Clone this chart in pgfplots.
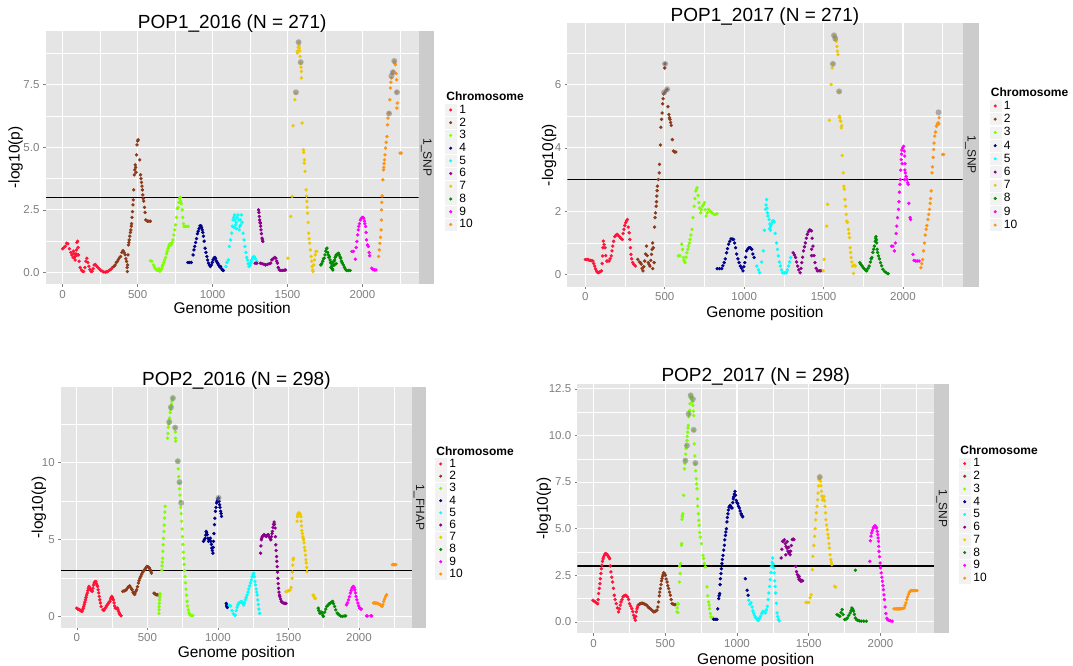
\documentclass[border=0pt]{standalone}
\usepackage{fontspec}
\setmainfont{Liberation Sans}
\usepackage{pgfplots}
\pgfplotsset{compat=1.18}

\definecolor{panel}{HTML}{E5E5E5}
\definecolor{stripc}{HTML}{CCCCCC}
\definecolor{keybg}{HTML}{F2F2F2}
\definecolor{tickc}{HTML}{7F7F7F}
\definecolor{c1}{HTML}{FF1438}
\definecolor{c2}{HTML}{8B3A1A}
\definecolor{c3}{HTML}{7FFF00}
\definecolor{c4}{HTML}{00008B}
\definecolor{c5}{HTML}{00FFFF}
\definecolor{c6}{HTML}{8B008B}
\definecolor{c7}{HTML}{EEC900}
\definecolor{c8}{HTML}{008B00}
\definecolor{c9}{HTML}{FF00FF}
\definecolor{c10}{HTML}{FF9410}

\pgfplotsset{
  manh/.style={
    scale only axis, anchor=south west,
    xmin=-113, xmax=2375,
    axis background/.style={fill=panel},
    axis line style={draw=none},
    xmajorgrids, ymajorgrids, xminorgrids, yminorgrids,
    major grid style={white, line width=1.1pt},
    minor grid style={white, line width=0.5pt},
    minor tick length=0pt,
    major tick length=2.7pt,
    tick align=outside,
    major tick style={tickc, line width=0.6pt},
    xtick pos=left, ytick pos=left,
    xtick={0,500,1000,1500,2000},
    xticklabels={0,500,1000,1500,2000},
    minor xtick={250,750,1250,1750,2250},
    tick label style={font=\fontsize{11.5}{12}\selectfont, text=tickc},
    xlabel={Genome position}, ylabel={-log10(p)},
    label style={font=\fontsize{15.5}{16}\selectfont},
    title style={font=\fontsize{19}{19}\selectfont, at={(axis description cs:0.5,1)}, anchor=base, yshift=-4pt},
    legend cell align=left,
    legend style={draw=none, fill=none, anchor=north west, inner sep=0pt, outer sep=0pt,
      column sep=2pt, font=\fontsize{12}{12}\selectfont, nodes={inner sep=1pt}},
  },
  chr/.style={only marks, mark=*, mark size=1.5pt, color=#1, mark options={draw=none, fill=#1},
    legend image code/.code={\fill[keybg] (0pt,-5.5pt) rectangle (11pt,5.5pt); \fill (5.5pt,0pt) circle (1.3pt);}},
  hit/.style={only marks, mark=*, mark size=3pt, forget plot, color=gray,
    mark options={draw opacity=0, fill=gray, fill opacity=0.6}},
  thr/.style={black, line width=1.1pt, forget plot},
}
\newcommand{\legtitle}{\addlegendimage{empty legend}\addlegendentry{\hspace*{-13pt}\fontsize{12}{12}\selectfont\bfseries Chromosome}}
\newcommand{\stripfont}{\fontsize{12}{12}\selectfont}

\begin{document}
\begin{tikzpicture}
\useasboundingbox (0,0) rectangle (1073pt,666pt);

% ---------- POP1_2016 ----------
\begin{axis}[manh, at={(45.7pt,382pt)}, width=373pt, height=253.3pt,
  ymin=-0.46, ymax=9.66, ytick={0,2.5,5,7.5}, yticklabels={0.0,2.5,5.0,7.5},
  minor ytick={1.25,3.75,6.25,8.75},
  title={POP1\_2016 (N = 271)},
  xlabel style={at={(axis description cs:0.5,0)}, anchor=base, yshift=-29.7pt},
  ylabel style={at={([xshift=-30pt]axis description cs:0,0.5)}, anchor=center},
  legend style={at={([xshift=26.3pt]axis description cs:1,0.762)}, row sep=0.9pt}]
\legtitle
\addplot[thr] coordinates {(-113,3) (2375,3)};
\addplot[chr=c1] coordinates {(0,0.95)(8,1.0)(18,1.05)(27,1.17)(35,1.15)(45,0.95)(55,0.8)(62,0.7)(70,0.6)(72,0.85)(75,0.75)(78,0.6)(83,0.5)(85,0.65)(88,0.75)(92,0.9)(95,1.2)(97,0.7)(100,1.25)(103,1.0)(106,0.7)(110,0.45)(117,0.2)(125,0.1)(132,0.05)(140,0.04)(148,0.2)(155,0.45)(162,0.57)(168,0.4)(175,0.25)(182,0.12)(190,0.04)(196,0.05)(203,0.15)(210,0.3)(218,0.32)(226,0.26)(235,0.2)(245,0.14)(255,0.08)(265,0.05)(275,0.02)(286,0.01)(296,0.03)(305,0.06)(315,0.1)(325,0.14)(332,0.2)};
\addlegendentry{1}
\addplot[chr=c2] coordinates {(342,0.24)(350,0.3)(358,0.4)(365,0.44)(372,0.52)(380,0.6)(387,0.64)(395,0.8)(403,0.87)(410,0.8)(417,0.71)(422,0.55)(426,0.44)(430,0.2)(432,0.04)(433,0.3)(436,0.7)(439,1.1)(442,1.2)(444,1.3)(448,1.45)(452,1.6)(455,1.7)(458,1.85)(460,1.95)(463,2.2)(466,2.43)(469,2.7)(471,2.9)(474,3.3)(478,3.9)(481,4.1)(484,4.3)(487,4.2)(490,4.0)(493,4.7)(496,5.1)(500,5.25)(504,5.3)(514,4.5)(520,3.9)(523,3.75)(526,3.6)(529,3.45)(532,3.3)(535,3.1)(538,2.95)(541,2.85)(546,2.6)(550,2.4)(555,2.1)(565,2.05)(575,2.05)(585,2.05)};
\addlegendentry{2}
\addplot[chr=c3] coordinates {(585,0.47)(595,0.45)(605,0.3)(613,0.2)(620,0.15)(627,0.1)(635,0.08)(642,0.15)(648,0.05)(655,0.1)(660,0.15)(665,0.25)(669,0.3)(675,0.4)(680,0.5)(687,0.6)(693,0.75)(698,0.85)(703,0.95)(708,1.05)(713,1.12)(718,1.15)(724,1.1)(730,1.2)(736,1.3)(742,1.5)(748,1.7)(754,1.9)(760,2.2)(766,2.55)(770,2.6)(775,2.8)(780,2.95)(784,3.0)(788,2.85)(792,2.75)(797,2.5)(801,2.2)(806,1.95)(810,1.84)(818,1.84)(827,1.84)(838,1.84)};
\addlegendentry{3}
\addplot[chr=c4] coordinates {(835,0.4)(845,0.4)(858,0.4)(870,0.7)(876,0.9)(881,1.04)(887,1.2)(893,1.35)(899,1.55)(904,1.65)(910,1.75)(916,1.86)(922,1.87)(927,1.8)(931,1.7)(935,1.6)(939,1.45)(944,1.25)(950,0.97)(956,0.8)(962,0.64)(967,0.5)(973,0.37)(979,0.3)(985,0.24)(992,0.3)(998,0.4)(1003,0.5)(1010,0.58)(1016,0.6)(1020,0.55)(1026,0.45)(1032,0.4)(1036,0.35)(1042,0.28)(1048,0.22)(1054,0.24)(1060,0.15)(1066,0.1)(1072,0.08)};
\addlegendentry{4}
\addplot[chr=c5] coordinates {(1089,0.24)(1095,0.4)(1105,0.5)(1112,1.04)(1120,1.3)(1128,1.57)(1132,1.85)(1137,2.1)(1141,2.2)(1144,1.8)(1146,2.3)(1150,2.1)(1154,1.9)(1158,2.0)(1160,1.75)(1163,2.2)(1169,2.3)(1175,2.1)(1178,1.7)(1181,1.84)(1186,2.1)(1188,1.9)(1192,2.3)(1198,2.0)(1204,1.57)(1210,1.3)(1216,1.04)(1222,0.8)(1228,0.6)(1234,0.5)(1238,0.35)(1243,0.24)(1250,0.3)(1256,0.4)(1261,0.5)(1268,0.6)(1277,0.64)(1286,0.55)(1295,0.44)};
\addlegendentry{5}
\addplot[chr=c6] coordinates {(1284,0.37)(1295,0.37)(1307,2.5)(1309,2.4)(1312,2.24)(1314,2.1)(1317,2.0)(1319,1.97)(1321,1.85)(1323,1.7)(1326,1.55)(1330,1.37)(1333,1.3)(1335,1.24)(1319,0.37)(1330,0.35)(1342,0.33)(1353,0.3)(1365,0.32)(1377,0.35)(1388,0.37)(1395,0.5)(1405,0.55)(1415,0.6)(1422,0.57)(1428,0.45)(1433,0.37)(1438,0.2)(1445,0.1)(1455,0.08)(1468,0.08)(1478,0.09)(1487,0.1)};
\addlegendentry{6}
\addplot[chr=c7] coordinates {(1503,0.57)(1521,2.24)(1532,3.04)(1537,5.86)(1549,6.9)(1556,7.17)(1565,8.77)(1568,8.85)(1571,9.0)(1574,9.2)(1577,9.05)(1579,8.96)(1582,8.85)(1584,8.63)(1588,8.37)(1590,8.2)(1593,8.03)(1593,7.77)(1597,5.97)(1606,4.9)(1608,4.8)(1611,4.37)(1613,4.5)(1617,4.04)(1624,3.3)(1627,3.05)(1629,2.84)(1632,2.6)(1634,2.37)(1638,2.0)(1641,1.57)(1644,1.35)(1648,1.17)(1652,0.9)(1657,0.64)(1661,0.45)(1664,0.24)(1668,0.1)(1671,0.04)(1675,0.3)(1680,0.5)(1685,0.7)(1689,0.84)(1695,0.84)};
\addlegendentry{7}
\addplot[chr=c8] coordinates {(1722,0.3)(1728,0.35)(1735,0.45)(1740,0.55)(1745,0.57)(1750,0.7)(1755,0.85)(1760,0.95)(1763,0.97)(1768,0.8)(1772,0.7)(1776,0.6)(1779,0.64)(1784,0.5)(1788,0.4)(1790,0.2)(1791,0.37)(1795,0.25)(1798,0.15)(1800,0.4)(1802,0.1)(1806,0.3)(1810,0.45)(1812,0.3)(1814,0.5)(1818,0.6)(1822,0.65)(1825,0.7)(1825,0.35)(1830,0.72)(1835,0.75)(1841,0.77)(1845,0.7)(1850,0.62)(1855,0.57)(1860,0.45)(1865,0.38)(1872,0.3)(1880,0.2)(1887,0.12)(1894,0.08)(1905,0.08)(1917,0.08)};
\addlegendentry{8}
\addplot[chr=c9] coordinates {(1929,0.84)(1940,0.84)(1952,0.53)(1958,1.0)(1963,1.24)(1968,1.5)(1972,1.7)(1975,1.84)(1980,1.95)(1986,2.1)(1992,2.15)(1998,2.2)(2003,2.2)(2009,2.17)(2013,2.05)(2016,1.95)(2021,1.84)(2024,1.6)(2027,1.3)(2033,1.1)(2039,1.04)(2044,0.8)(2048,0.67)(2062,0.17)(2070,0.12)(2080,0.1)(2090,0.1)};
\addlegendentry{9}
\addplot[chr=c10] coordinates {(2108,0.64)(2112,0.9)(2116,1.17)(2120,1.4)(2124,1.7)(2126,2.1)(2127,2.5)(2129,2.8)(2131,3.06)(2136,3.7)(2140,4.1)(2142,4.2)(2144,4.35)(2147,4.5)(2150,4.7)(2154,4.97)(2158,5.2)(2163,5.43)(2167,5.9)(2170,6.17)(2177,6.37)(2182,6.9)(2186,7.37)(2189,7.6)(2193,7.77)(2198,7.95)(2205,8.03)(2212,8.43)(2216,8.35)(2219,8.3)(2224,7.95)(2228,7.7)(2228,7.2)(2232,6.77)(2230,6.57)(2251,4.77)(2258,4.77)};
\addlegendentry{10}
\addplot[hit] coordinates {(1556,7.2)(1574,9.2)(1588,8.4)(2177,6.35)(2193,7.85)(2203,8.0)(2212,8.45)(2230,7.2)};
\end{axis}
\fill[stripc] (418.7pt,382pt) rectangle (434pt,635.3pt);
\node[rotate=-90, font=\stripfont, text=black!90] at (426.35pt,508.65pt) {1\_SNP};

% ---------- POP1_2017 ----------
\begin{axis}[manh, at={(567.4pt,379.3pt)}, width=395.1pt, height=263.4pt,
  ymin=-0.38, ymax=7.93, ytick={0,2,4,6}, yticklabels={0,2,4,6},
  minor ytick={1,3,5,7},
  title={POP1\_2017 (N = 271)},
  xlabel style={at={(axis description cs:0.5,0)}, anchor=base, yshift=-31pt},
  ylabel style={at={([xshift=-18.4pt]axis description cs:0,0.5)}, anchor=center},
  legend style={at={([xshift=27pt]axis description cs:1,0.76)}, row sep=1.4pt}]
\legtitle
\addplot[thr] coordinates {(-113,3) (2375,3)};
\addplot[chr=c1] coordinates {(0,0.48)(10,0.48)(20,0.47)(30,0.45)(40,0.44)(48,0.43)(53,0.35)(59,0.27)(64,0.18)(70,0.12)(75,0.08)(80,0.06)(88,0.08)(95,0.1)(102,0.12)(106,0.35)(109,0.59)(111,0.85)(113,1.06)(118,0.95)(124,0.85)(128,0.6)(135,0.43)(142,0.43)(150,0.43)(156,0.5)(163,0.59)(168,0.75)(172,0.9)(178,1.05)(185,1.2)(192,1.24)(200,1.27)(207,1.24)(215,1.2)(224,1.15)(233,1.11)(238,1.3)(243,1.43)(248,1.55)(254,1.64)(260,1.7)(265,1.74)(270,1.5)(276,1.32)(280,1.11)(284,0.85)(287,0.64)(292,0.5)(298,0.38)(306,0.32)(315,0.27)};
\addlegendentry{1}
\addplot[chr=c2] coordinates {(330,0.48)(340,0.4)(347,0.38)(352,0.33)(357,0.2)(363,0.12)(368,0.25)(374,0.43)(380,0.65)(385,0.9)(390,0.6)(396,0.38)(402,0.32)(407,0.27)(412,0.45)(417,0.64)(420,0.8)(424,1.0)(428,0.85)(433,0.38)(424,0.19)(436,1.5)(439,1.8)(442,1.95)(446,2.16)(448,2.3)(450,2.48)(452,2.65)(454,2.79)(460,3.0)(465,3.21)(467,3.48)(472,4.09)(476,4.65)(480,4.9)(483,5.1)(487,5.39)(490,5.55)(493,5.7)(498,5.74)(500,6.52)(502,6.65)(508,5.8)(515,5.84)(520,5.3)(526,5.05)(530,4.95)(533,4.9)(537,4.8)(541,4.71)(548,4.26)(554,3.9)(562,3.87)(570,3.87)};
\addlegendentry{2}
\addplot[chr=c3] coordinates {(585,0.59)(595,0.6)(607,0.96)(612,0.8)(617,0.54)(622,0.45)(628,0.38)(634,0.55)(639,0.69)(645,0.8)(650,0.9)(655,1.0)(659,1.11)(665,1.25)(672,1.43)(678,1.8)(685,2.16)(690,2.4)(696,2.64)(700,2.7)(704,2.74)(710,2.5)(715,2.27)(720,2.1)(726,1.95)(731,2.05)(737,2.16)(743,2.2)(750,2.27)(755,2.05)(761,1.85)(768,1.95)(776,2.06)(787,2.0)(798,1.95)(810,1.9)(820,1.9)(830,1.92)};
\addlegendentry{3}
\addplot[chr=c4] coordinates {(830,0.19)(845,0.19)(859,0.19)(866,0.28)(874,0.38)(881,0.5)(889,0.69)(895,0.82)(902,0.96)(909,1.05)(917,1.13)(925,1.12)(933,1.11)(940,1.0)(946,0.85)(953,0.65)(961,0.5)(968,0.38)(976,0.27)(984,0.2)(993,0.12)(998,0.25)(1004,0.38)(1010,0.55)(1015,0.75)(1022,0.8)(1030,0.85)(1038,0.85)(1048,0.8)(1055,0.65)(1063,0.54)};
\addlegendentry{4}
\addplot[chr=c5] coordinates {(1080,0.27)(1090,0.15)(1098,0.06)(1110,0.4)(1120,0.75)(1128,1.4)(1135,2.06)(1138,2.2)(1141,2.37)(1144,2.1)(1146,1.95)(1150,1.85)(1157,1.74)(1160,1.45)(1162,1.6)(1165,1.4)(1167,1.53)(1172,1.6)(1178,1.69)(1184,1.7)(1189,1.66)(1196,1.3)(1204,1.0)(1210,0.8)(1215,0.59)(1222,0.4)(1228,0.27)(1235,0.15)(1243,0.06)(1255,0.06)(1265,0.06)(1272,0.15)(1280,0.27)(1287,0.4)(1293,0.54)};
\addlegendentry{5}
\addplot[chr=c6] coordinates {(1309,0.69)(1317,0.62)(1324,0.54)(1330,0.4)(1337,0.27)(1344,0.15)(1352,0.06)(1358,0.2)(1363,0.38)(1368,0.55)(1374,0.75)(1380,0.88)(1385,1.0)(1392,1.15)(1398,1.27)(1404,1.35)(1411,1.41)(1418,1.4)(1424,1.38)(1425,0.6)(1425,0.8)(1428,1.15)(1433,0.9)(1440,0.6)(1446,0.38)(1453,0.2)(1461,0.12)(1472,0.12)(1483,0.12)};
\addlegendentry{6}
\addplot[chr=c7] coordinates {(1498,0.12)(1504,0.48)(1520,1.53)(1526,2.22)(1537,4.87)(1548,6.0)(1554,6.52)(1559,6.65)(1565,7.54)(1570,7.5)(1574,7.44)(1577,7.4)(1580,7.36)(1584,7.2)(1587,7.05)(1591,6.94)(1598,5.77)(1600,5.0)(1602,4.95)(1605,4.85)(1609,4.84)(1611,4.63)(1614,4.7)(1617,3.76)(1624,3.21)(1628,2.79)(1630,2.7)(1635,2.37)(1639,2.16)(1643,1.9)(1646,1.69)(1650,1.65)(1657,1.43)(1660,1.3)(1663,1.17)(1667,0.85)(1670,0.7)(1674,0.54)(1678,0.4)(1683,0.27)(1689,0.04)(1694,0.3)(1700,0.27)};
\addlegendentry{7}
\addplot[chr=c8] coordinates {(1728,0.38)(1735,0.33)(1742,0.28)(1750,0.22)(1757,0.18)(1765,0.14)(1772,0.12)(1780,0.2)(1787,0.27)(1795,0.4)(1800,0.5)(1804,0.54)(1810,0.7)(1815,0.8)(1820,0.9)(1825,1.05)(1828,1.15)(1830,1.2)(1833,1.1)(1835,1.0)(1837,0.8)(1840,0.7)(1846,0.59)(1852,0.5)(1859,0.38)(1866,0.28)(1874,0.17)(1884,0.1)(1896,0.06)(1907,0.03)};
\addlegendentry{8}
\addplot[chr=c9] coordinates {(1928,0.9)(1937,0.9)(1946,0.75)(1952,1.0)(1957,1.3)(1961,1.53)(1966,1.8)(1972,2.06)(1975,2.3)(1978,2.6)(1981,2.85)(1983,3.0)(1986,3.3)(1989,3.63)(1991,3.8)(1993,3.93)(1995,3.5)(1998,4.0)(2004,4.05)(2008,3.9)(2010,3.0)(2011,3.74)(2012,3.3)(2013,3.5)(2015,3.21)(2020,3.1)(2026,3.0)(2030,2.9)(2033,2.85)(2037,2.25)(2045,1.8)(2048,1.74)(2063,0.64)(2070,0.45)(2080,0.43)(2090,0.43)(2102,0.43)};
\addlegendentry{9}
\addplot[chr=c10] coordinates {(2113,0.22)(2118,0.35)(2124,0.48)(2130,0.75)(2135,1.0)(2140,1.25)(2146,1.43)(2150,1.55)(2157,1.74)(2162,1.9)(2167,2.06)(2171,2.25)(2174,2.4)(2178,2.64)(2183,3.21)(2186,3.4)(2190,3.7)(2193,3.95)(2196,4.15)(2200,4.37)(2205,4.5)(2211,4.68)(2216,4.75)(2222,4.79)(2228,4.95)(2226,4.75)(2250,3.79)(2256,3.79)};
\addlegendentry{10}
\addplot[hit] coordinates {(502,6.65)(496,5.75)(515,5.85)(1559,6.65)(1566,7.55)(1574,7.45)(1598,5.78)(2224,5.12)};
\end{axis}
\fill[stripc] (962.5pt,379.3pt) rectangle (978.8pt,642.7pt);
\node[rotate=-90, font=\stripfont, text=black!90] at (970.65pt,511pt) {1\_SNP};

% ---------- POP2_2016 ----------
\begin{axis}[manh, at={(60.9pt,38.3pt)}, width=350.9pt, height=240.4pt,
  ymin=-0.71, ymax=14.9, ytick={0,5,10}, yticklabels={0,5,10},
  minor ytick={2.5,7.5,12.5},
  title={POP2\_2016 (N = 298)},
  xlabel style={at={(axis description cs:0.5,0)}, anchor=base, yshift=-30pt},
  ylabel style={at={([xshift=-22pt]axis description cs:0,0.5)}, anchor=center},
  legend style={at={([xshift=23.2pt]axis description cs:1,0.758)}, row sep=0.4pt}]
\legtitle
\addplot[thr] coordinates {(-113,3) (2375,3)};
\addplot[chr=c1] coordinates {(0,0.56)(7,0.5)(14,0.48)(20,0.45)(27,0.4)(33,0.36)(37,0.35)(41,0.45)(45,0.55)(49,0.67)(53,0.8)(57,0.95)(61,1.1)(65,1.25)(69,1.4)(74,1.54)(78,1.7)(82,1.85)(86,1.97)(90,1.9)(94,1.8)(98,1.75)(103,1.7)(107,1.68)(110,1.65)(114,1.85)(118,2.05)(123,2.19)(127,2.25)(131,2.28)(135,2.29)(139,2.15)(143,2.05)(147,1.97)(151,1.75)(155,1.55)(159,1.32)(163,1.1)(167,0.9)(172,0.67)(185,0.45)(191,0.41)(197,0.5)(205,0.6)(210,0.7)(216,0.78)(222,0.85)(228,0.95)(235,1.0)(240,1.15)(244,1.25)(248,1.32)(252,1.25)(256,1.15)(260,1.1)(264,0.9)(268,0.7)(272,0.56)(278,0.56)(284,0.56)(289,0.56)(292,0.45)(296,0.35)(301,0.24)(305,0.15)(310,0.1)(314,0.06)};
\addlegendentry{1}
\addplot[chr=c2] coordinates {(326,1.65)(335,1.68)(342,1.7)(350,1.75)(358,1.85)(366,1.95)(375,2.01)(382,1.9)(388,1.8)(392,1.75)(398,1.6)(404,1.5)(410,1.45)(412,1.54)(418,1.65)(424,1.75)(430,1.95)(436,2.19)(441,2.35)(447,2.5)(453,2.62)(459,2.75)(466,2.88)(472,2.97)(480,3.05)(486,3.12)(492,3.2)(498,3.27)(504,3.25)(510,3.2)(515,3.16)(520,3.05)(525,2.95)(529,2.84)(547,1.54)(552,1.5)(558,1.45)(564,1.43)(570,1.43)(578,1.43)};
\addlegendentry{2}
\addplot[chr=c3] coordinates {(582,0.22)(583,0.45)(584,0.65)(585,0.87)(586,1.09)(588,1.25)(589,1.41)(590,1.5)(603,3.04)(604,3.3)(606,3.55)(608,3.8)(610,4.25)(612,4.67)(614,5.1)(617,5.54)(619,5.95)(622,6.41)(624,6.8)(626,7.17)(643,11.6)(645,11.9)(648,12.3)(651,12.5)(655,12.65)(658,12.9)(662,13.26)(665,13.45)(667,13.6)(670,13.8)(674,14.0)(678,14.1)(681,14.2)(697,12.28)(698,12.0)(700,11.6)(701,11.4)(716,10.1)(719,9.6)(722,9.1)(725,8.7)(728,8.3)(731,7.9)(734,7.5)(737,7.1)(740,6.7)(743,6.2)(746,5.7)(749,5.2)(752,4.7)(755,4.2)(758,3.8)(761,3.4)(764,3.0)(767,2.6)(770,2.2)(774,1.8)(778,1.4)(782,1.0)(786,0.7)(790,0.45)(795,0.25)(800,0.15)(808,0.1)(816,0.08)(823,0.08)};
\addlegendentry{3}
\addplot[chr=c4] coordinates {(898,4.9)(904,5.0)(910,5.1)(914,5.3)(917,5.54)(920,5.45)(924,5.33)(929,5.1)(934,4.9)(940,5.0)(946,5.1)(950,4.9)(954,4.7)(957,4.46)(961,4.3)(965,4.13)(967,4.5)(969,4.9)(972,5.4)(976,5.98)(979,6.4)(983,6.85)(987,7.1)(991,7.39)(995,7.5)(998,7.6)(1002,7.68)(1005,7.72)(1008,7.5)(1012,7.28)(1015,7.1)(1019,6.85)(1023,6.7)(1026,6.52)(1059,0.87)(1062,0.75)(1064,0.65)(1067,0.6)};
\addlegendentry{4}
\addplot[chr=c5] coordinates {(1080,0.75)(1090,0.7)(1100,0.4)(1110,0.2)(1118,0.1)(1123,0.1)(1130,0.4)(1136,0.6)(1141,0.75)(1147,0.87)(1153,0.92)(1159,0.95)(1165,0.98)(1171,0.98)(1177,0.87)(1183,0.76)(1189,0.9)(1195,1.1)(1201,1.25)(1207,1.41)(1213,1.6)(1219,1.8)(1225,2.0)(1231,2.2)(1237,2.4)(1243,2.6)(1249,2.75)(1255,2.83)(1259,2.6)(1263,2.3)(1267,2.07)(1271,1.8)(1275,1.6)(1279,1.41)(1283,1.1)(1287,0.8)(1291,0.5)(1296,0.22)};
\addlegendentry{5}
\addplot[chr=c6] coordinates {(1303,4.13)(1305,4.6)(1308,5.0)(1310,5.1)(1315,5.2)(1320,5.25)(1327,5.33)(1333,5.3)(1339,5.25)(1344,5.22)(1350,5.3)(1354,5.3)(1358,5.33)(1363,5.2)(1370,5.1)(1375,5.0)(1380,5.2)(1384,5.4)(1387,5.54)(1391,5.8)(1395,6.0)(1399,6.15)(1402,6.0)(1406,5.76)(1408,5.2)(1411,4.67)(1413,4.3)(1416,3.91)(1418,3.6)(1421,3.26)(1423,2.9)(1426,2.5)(1428,2.15)(1430,1.85)(1433,1.6)(1437,1.4)(1440,1.3)(1445,1.15)(1450,1.0)(1455,0.95)(1462,0.9)(1471,0.87)(1478,0.87)(1483,0.87)};
\addlegendentry{6}
\addplot[chr=c7] coordinates {(1483,1.63)(1490,1.65)(1498,1.68)(1505,1.72)(1512,1.74)(1520,1.9)(1526,2.5)(1528,2.9)(1531,3.35)(1534,3.7)(1536,3.8)(1562,6.2)(1564,6.5)(1566,6.6)(1568,6.68)(1572,6.74)(1576,6.73)(1580,6.7)(1584,6.63)(1588,6.5)(1590,6.2)(1593,5.9)(1596,5.6)(1599,5.4)(1602,5.2)(1605,5.1)(1608,5.0)(1611,4.8)(1614,4.5)(1618,4.3)(1621,4.0)(1624,3.7)(1627,3.5)(1630,3.2)(1632,2.93)(1675,1.41)(1680,1.35)(1686,1.21)(1692,1.2)};
\addlegendentry{7}
\addplot[chr=c8] coordinates {(1711,0.56)(1716,0.4)(1723,0.24)(1730,0.24)(1735,0.3)(1740,0.24)(1744,0.1)(1748,0.02)(1758,0.3)(1765,0.5)(1772,0.67)(1780,0.75)(1790,0.85)(1797,0.89)(1805,0.95)(1814,1.0)(1820,0.85)(1828,0.67)(1836,0.45)(1846,0.24)(1852,0.18)(1858,0.13)(1870,0.05)(1882,0.02)(1895,0.05)(1907,0.06)};
\addlegendentry{8}
\addplot[chr=c9] coordinates {(1912,0.78)(1918,0.9)(1926,1.1)(1932,1.3)(1939,1.54)(1945,1.7)(1951,1.86)(1956,1.92)(1961,1.97)(1966,1.9)(1971,1.75)(1976,1.55)(1980,1.32)(1986,1.1)(1993,0.89)(1999,0.7)(2005,0.56)(2011,0.52)(2017,0.5)(2054,0.06)(2060,0.05)(2085,0.06)(2091,0.06)};
\addlegendentry{9}
\addplot[chr=c10] coordinates {(2103,0.89)(2110,0.9)(2118,0.89)(2127,0.89)(2135,0.85)(2143,0.82)(2152,0.78)(2158,0.72)(2164,0.67)(2170,0.8)(2176,1.0)(2182,1.15)(2189,1.32)(2196,1.43)(2238,3.38)(2244,3.4)(2250,3.38)(2255,3.38)(2262,3.38)};
\addlegendentry{10}
\addplot[hit] coordinates {(655,12.65)(667,13.6)(681,14.2)(697,12.28)(716,10.1)(728,8.74)(740,7.39)(1005,7.72)};
\end{axis}
\fill[stripc] (411.8pt,38.3pt) rectangle (426.3pt,278.7pt);
\node[rotate=-90, font=\stripfont, text=black!90] at (419.05pt,158.5pt) {1\_FHAP};

% ---------- POP2_2017 ----------
\begin{axis}[manh, at={(577.4pt,32.7pt)}, width=356.8pt, height=249.3pt,
  ymin=-0.61, ymax=12.76, ytick={0,2.5,5,7.5,10,12.5}, yticklabels={0.0,2.5,5.0,7.5,10.0,12.5},
  minor ytick={1.25,3.75,6.25,8.75,11.25},
  title={POP2\_2017 (N = 298)},
  xlabel style={at={(axis description cs:0.5,0)}, anchor=base, yshift=-31pt},
  ylabel style={at={([xshift=-33.6pt]axis description cs:0,0.5)}, anchor=center},
  legend style={at={([xshift=24.8pt]axis description cs:1,0.757)}, row sep=0.9pt}]
\legtitle
\addplot[thr] coordinates {(-113,3) (2375,3)};
\addplot[chr=c1] coordinates {(-5,1.16)(5,1.1)(12,1.07)(20,1.02)(28,0.98)(32,1.2)(35,1.52)(40,1.8)(44,2.05)(47,2.32)(51,2.6)(54,2.85)(58,3.04)(62,3.25)(66,3.38)(70,3.48)(75,3.58)(81,3.66)(87,3.65)(93,3.62)(98,3.57)(104,3.5)(108,3.45)(112,3.39)(116,3.0)(121,2.68)(127,2.4)(133,2.14)(138,1.8)(144,1.43)(150,1.2)(158,0.98)(166,0.75)(174,0.54)(180,0.7)(186,0.9)(191,1.07)(198,1.2)(205,1.34)(213,1.4)(221,1.43)(229,1.4)(237,1.34)(244,1.2)(251,0.98)(259,0.85)(267,0.71)(273,0.55)(279,0.36)(285,0.2)(291,0.09)(294,0.3)(298,0.54)(302,0.7)(306,0.8)(310,0.9)};
\addlegendentry{1}
\addplot[chr=c2] coordinates {(320,0.95)(326,0.98)(333,1.0)(340,1.0)(349,0.98)(357,0.95)(365,0.92)(372,0.89)(380,0.8)(387,0.75)(395,0.71)(403,0.65)(411,0.6)(419,0.54)(427,0.55)(434,0.58)(442,0.63)(448,0.8)(453,1.07)(458,1.4)(461,1.6)(465,1.79)(470,2.0)(473,2.2)(477,2.32)(481,2.45)(485,2.55)(488,2.64)(494,2.6)(500,2.5)(506,2.3)(512,2.14)(517,1.95)(523,1.79)(529,1.6)(535,1.43)(541,1.2)(547,0.98)(555,0.95)(562,0.93)(570,0.93)};
\addlegendentry{2}
\addplot[chr=c3] coordinates {(581,0.54)(583,0.75)(586,0.98)(588,0.5)(590,0.95)(598,2.14)(600,3.0)(603,2.6)(607,3.13)(612,4.11)(614,4.2)(616,5.5)(618,5.7)(619,5.63)(623,5.8)(628,6.79)(633,8.21)(636,8.5)(637,8.66)(642,9.0)(645,9.3)(647,9.46)(651,9.73)(653,9.95)(656,10.18)(658,10.4)(660,10.54)(663,11.0)(665,11.16)(670,11.34)(672,11.7)(674,12.0)(676,12.14)(680,12.1)(683,12.0)(686,11.96)(690,11.8)(693,11.61)(696,11.3)(698,11.07)(698,10.27)(702,9.55)(706,8.9)(709,8.48)(712,8.1)(716,7.68)(718,7.4)(721,7.14)(724,6.6)(726,6.21)(730,5.8)(733,5.45)(737,5.18)(740,4.8)(744,4.55)(752,4.2)(763,3.57)(767,3.4)(772,3.13)(779,2.95)(791,1.88)(796,1.4)(802,1.07)(806,0.9)(809,0.71)(814,0.45)(819,0.27)(825,0.22)(833,0.21)};
\addlegendentry{3}
\addplot[chr=c4] coordinates {(837,0.14)(848,0.14)(860,0.14)(866,0.7)(872,1.25)(875,1.4)(879,1.52)(882,2.0)(884,2.32)(888,2.59)(891,2.85)(895,3.13)(898,3.35)(902,3.57)(907,3.85)(912,4.11)(915,4.4)(919,4.64)(922,4.82)(926,5.0)(930,5.36)(933,5.6)(937,5.8)(940,6.0)(944,6.16)(948,6.2)(953,6.25)(958,6.15)(965,6.11)(970,6.4)(974,6.6)(977,6.7)(981,6.85)(986,7.0)(990,6.8)(995,6.52)(1000,6.4)(1005,6.34)(1010,6.2)(1016,6.11)(1022,5.95)(1028,5.8)(1034,5.7)(1040,5.63)(1058,2.32)(1070,1.7)(1077,1.43)};
\addlegendentry{4}
\addplot[chr=c5] coordinates {(1081,1.16)(1090,0.95)(1097,1.02)(1105,0.8)(1110,0.6)(1116,0.48)(1122,0.35)(1128,0.25)(1133,0.21)(1140,0.15)(1145,0.1)(1150,0.09)(1157,0.2)(1164,0.3)(1172,0.45)(1181,0.57)(1190,0.52)(1198,0.48)(1205,0.65)(1212,0.84)(1217,1.2)(1222,1.55)(1227,1.9)(1232,2.27)(1237,2.65)(1241,2.98)(1245,3.2)(1248,3.43)(1252,3.1)(1256,2.9)(1260,2.63)(1263,2.2)(1266,1.9)(1270,1.55)(1274,1.0)(1279,0.48)(1284,0.3)(1289,0.13)(1294,0.06)};
\addlegendentry{5}
\addplot[chr=c6] coordinates {(1308,3.43)(1313,3.9)(1318,4.32)(1324,4.35)(1330,4.41)(1336,4.2)(1340,3.6)(1342,4.05)(1349,3.96)(1350,4.3)(1355,3.8)(1360,4.0)(1361,3.7)(1367,3.75)(1370,3.6)(1373,3.79)(1379,4.1)(1385,4.41)(1391,4.45)(1397,4.41)(1409,2.98)(1415,2.7)(1421,2.54)(1427,2.4)(1433,2.27)(1433,2.45)(1439,2.3)(1445,2.18)(1451,2.2)(1457,2.21)};
\addlegendentry{6}
\addplot[chr=c7] coordinates {(1481,1.05)(1490,1.05)(1500,1.05)(1510,1.3)(1517,1.46)(1525,2.8)(1529,3.52)(1535,4.1)(1541,4.59)(1545,5.0)(1548,5.48)(1553,5.85)(1558,6.2)(1562,6.55)(1565,6.91)(1568,7.3)(1572,7.63)(1577,7.77)(1582,7.54)(1585,7.3)(1589,7.0)(1592,6.75)(1596,6.55)(1601,6.65)(1606,6.73)(1610,6.5)(1613,6.2)(1617,5.85)(1620,5.48)(1625,5.2)(1630,4.95)(1634,4.7)(1637,4.5)(1641,4.2)(1644,3.96)(1649,3.6)(1654,3.34)(1658,3.2)(1661,3.07)(1681,1.91)(1688,1.86)};
\addlegendentry{7}
\addplot[chr=c8] coordinates {(1697,0.39)(1707,0.35)(1717,0.3)(1725,0.5)(1733,0.66)(1740,0.4)(1750,0.13)(1760,0.15)(1769,0.21)(1779,0.35)(1789,0.48)(1795,0.6)(1801,0.75)(1807,0.68)(1813,0.57)(1819,0.4)(1825,0.21)(1833,0.12)(1842,0.09)(1854,0.06)(1866,0.04)(1884,0.04)(1902,0.04)(1825,2.77)};
\addlegendentry{8}
\addplot[chr=c9] coordinates {(1926,3.25)(1930,4.35)(1934,4.6)(1938,4.77)(1944,4.9)(1950,5.04)(1956,5.1)(1962,5.16)(1968,5.1)(1974,5.04)(1978,4.85)(1981,4.68)(1984,4.5)(1986,4.32)(1988,4.05)(1990,3.79)(1994,3.5)(1998,3.16)(2001,2.9)(2005,2.63)(2010,2.4)(2014,2.18)(2018,1.95)(2021,1.73)(2025,1.45)(2028,1.2)(2033,0.8)(2038,0.45)(2045,0.2)(2050,0.12)(2058,0.09)(2070,0.06)(2082,0.04)};
\addlegendentry{9}
\addplot[chr=c10] coordinates {(2094,0.7)(2102,0.7)(2110,0.7)(2118,0.7)(2126,0.7)(2134,0.7)(2142,0.7)(2150,0.72)(2158,0.73)(2166,0.75)(2172,0.9)(2178,1.02)(2184,1.2)(2190,1.34)(2196,1.48)(2202,1.59)(2208,1.65)(2214,1.68)(2221,1.68)(2228,1.68)(2236,1.68)(2245,1.68)(2255,1.68)};
\addlegendentry{10}
\addplot[hit] coordinates {(640,8.65)(651,9.46)(663,11.16)(677,12.15)(692,11.95)(698,10.3)(710,8.52)(1577,7.77)};
\end{axis}
\fill[stripc] (934.2pt,32.7pt) rectangle (949.4pt,282pt);
\node[rotate=-90, font=\stripfont, text=black!90] at (941.8pt,157.35pt) {1\_SNP};
\end{tikzpicture}
\end{document}
